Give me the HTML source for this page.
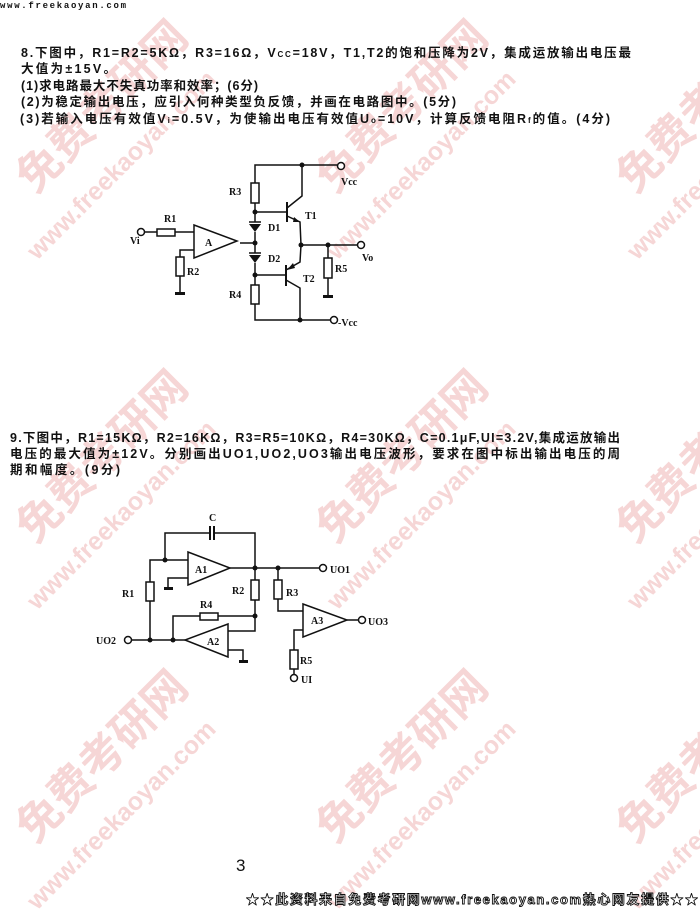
<!DOCTYPE html>
<html><head><meta charset="utf-8"><style>
html,body{margin:0;padding:0;background:#fff;}
svg{display:block;}
.t{font-family:"Liberation Sans","Noto Sans CJK SC",sans-serif;font-size:12.5px;fill:#111;font-weight:bold;}
.l{font-family:"Liberation Serif","Noto Serif CJK SC",serif;font-size:10px;font-weight:bold;fill:#111;}
.wm{font-family:"Liberation Sans","Noto Sans CJK SC",sans-serif;font-weight:bold;fill:#f6d6d6;}
</style></head><body>
<svg width="700" height="914" viewBox="0 0 700 914" xmlns="http://www.w3.org/2000/svg">
<rect width="700" height="914" fill="#fff"/>
<g class="wm">
<g transform="translate(35,195) rotate(-45)"><text font-size="44">免费考研网</text><text x="-45" y="48" font-size="25">www.freekaoyan.com</text></g>
<g transform="translate(335,195) rotate(-45)"><text font-size="44">免费考研网</text><text x="-45" y="48" font-size="25">www.freekaoyan.com</text></g>
<g transform="translate(635,195) rotate(-45)"><text font-size="44">免费考研网</text><text x="-45" y="48" font-size="25">www.freekaoyan.com</text></g>
<g transform="translate(35,545) rotate(-45)"><text font-size="44">免费考研网</text><text x="-45" y="48" font-size="25">www.freekaoyan.com</text></g>
<g transform="translate(335,545) rotate(-45)"><text font-size="44">免费考研网</text><text x="-45" y="48" font-size="25">www.freekaoyan.com</text></g>
<g transform="translate(635,545) rotate(-45)"><text font-size="44">免费考研网</text><text x="-45" y="48" font-size="25">www.freekaoyan.com</text></g>
<g transform="translate(35,845) rotate(-45)"><text font-size="44">免费考研网</text><text x="-45" y="48" font-size="25">www.freekaoyan.com</text></g>
<g transform="translate(335,845) rotate(-45)"><text font-size="44">免费考研网</text><text x="-45" y="48" font-size="25">www.freekaoyan.com</text></g>
<g transform="translate(635,845) rotate(-45)"><text font-size="44">免费考研网</text><text x="-45" y="48" font-size="25">www.freekaoyan.com</text></g>
</g>
<text x="0" y="8" font-family="Liberation Mono,monospace" font-size="9" font-weight="bold" fill="#111" textLength="126">www.freekaoyan.com</text>
<text class="t" x="21" y="57" textLength="610">8.下图中，R1=R2=5KΩ，R3=16Ω，V<tspan font-size="8">CC</tspan>=18V，T1,T2的饱和压降为2V，集成运放输出电压最</text>
<text class="t" x="21" y="73" textLength="95">大值为±15V。</text>
<text class="t" x="21" y="90" textLength="237">(1)求电路最大不失真功率和效率；(6分)</text>
<text class="t" x="21" y="106" textLength="435">(2)为稳定输出电压，应引入何种类型负反馈，并画在电路图中。(5分)</text>
<text class="t" x="20" y="123" textLength="590">(3)若输入电压有效值V<tspan font-size="8">i</tspan>=0.5V，为使输出电压有效值U<tspan font-size="8">o</tspan>=10V，计算反馈电阻R<tspan font-size="8">f</tspan>的值。(4分)</text>
<g stroke="#111" stroke-width="1.5" fill="none">
<polyline points="255,183 255,165 337,165"/>
<rect x="251" y="183" width="8" height="20" fill="#fff"/>
<polyline points="255,203 255,222"/>
<line x1="255" y1="212" x2="286" y2="212"/>
<line x1="287" y1="202" x2="287" y2="222" stroke-width="2"/>
<polyline points="287,208 302,196 302,165"/>
<polyline points="287,216 300,222 301,245"/>
<line x1="255" y1="232" x2="255" y2="253"/>
<line x1="240" y1="243" x2="255" y2="243"/>
<line x1="249" y1="222" x2="261" y2="222"/>
<line x1="249" y1="253" x2="261" y2="253"/>
<line x1="255" y1="263" x2="255" y2="285"/>
<line x1="255" y1="275" x2="285" y2="275"/>
<line x1="286" y1="265" x2="286" y2="286" stroke-width="2"/>
<polyline points="286,270 300,262 301,245"/>
<polyline points="286,280 300,288 300,320"/>
<rect x="251" y="285" width="8" height="19" fill="#fff"/>
<polyline points="255,304 255,320 330,320"/>
<line x1="301" y1="245" x2="357" y2="245"/>
<line x1="328" y1="245" x2="328" y2="258"/>
<rect x="324" y="258" width="8" height="20" fill="#fff"/>
<line x1="328" y1="278" x2="328" y2="296"/>
<polygon points="194,225 194,258 237,241" fill="#fff"/>
<line x1="145" y1="232" x2="157" y2="232"/>
<rect x="157" y="229" width="18" height="7" fill="#fff"/>
<line x1="175" y1="232" x2="194" y2="232"/>
<polyline points="194,250 180,250 180,257"/>
<rect x="176" y="257" width="8" height="19" fill="#fff"/>
<line x1="180" y1="276" x2="180" y2="293"/>
<circle cx="341" cy="166" r="3.5" fill="#fff"/>
<circle cx="361" cy="245" r="3.5" fill="#fff"/>
<circle cx="334" cy="320" r="3.5" fill="#fff"/>
<circle cx="141" cy="232" r="3.5" fill="#fff"/>
</g>
<g fill="#111">
<polygon points="249,224 261,224 255,232"/>
<polygon points="249,255 261,255 255,263"/>
<polygon points="300,222 294,217 293,222"/>
<polygon points="287,270 293,263 295,268"/>
<circle cx="302" cy="165" r="2.5"/><circle cx="255" cy="212" r="2.5"/><circle cx="255" cy="243" r="2.5"/>
<circle cx="255" cy="275" r="2.5"/><circle cx="301" cy="245" r="2.5"/><circle cx="328" cy="245" r="2.5"/>
<circle cx="300" cy="320" r="2.5"/>
<rect x="175" y="292" width="10" height="3"/><rect x="323" y="295" width="10" height="3"/>
</g>
<g class="l">
<text x="229" y="195">R3</text><text x="164" y="222">R1</text><text x="205" y="246">A</text>
<text x="130" y="244">Vi</text><text x="187" y="275">R2</text><text x="268" y="231">D1</text>
<text x="268" y="262">D2</text><text x="305" y="219">T1</text><text x="303" y="282">T2</text>
<text x="229" y="298">R4</text><text x="335" y="272">R5</text><text x="362" y="261">Vo</text>
<text x="341" y="185">Vcc</text><text x="338" y="326">-Vcc</text>
</g>
<text class="t" x="10" y="442" textLength="610">9.下图中，R1=15KΩ，R2=16KΩ，R3=R5=10KΩ，R4=30KΩ，C=0.1μF,UI=3.2V,集成运放输出</text>
<text class="t" x="10" y="458" textLength="610">电压的最大值为±12V。分别画出UO1,UO2,UO3输出电压波形，要求在图中标出输出电压的周</text>
<text class="t" x="10" y="474" textLength="110">期和幅度。(9分)</text>
<g stroke="#111" stroke-width="1.5" fill="none">
<polyline points="165,560 165,533 210,533"/>
<polyline points="214,533 255,533 255,580"/>
<line x1="210" y1="526" x2="210" y2="540" stroke-width="2"/>
<line x1="214" y1="526" x2="214" y2="540" stroke-width="2"/>
<polygon points="188,552 188,585 230,568" fill="#fff"/>
<polyline points="188,560 150,560 150,582"/>
<rect x="146" y="582" width="8" height="19" fill="#fff"/>
<line x1="150" y1="601" x2="150" y2="640"/>
<polyline points="188,578 168,578 168,588"/>
<line x1="230" y1="568" x2="319" y2="568"/>
<rect x="251" y="580" width="8" height="20" fill="#fff"/>
<polyline points="255,600 255,631 228,631"/>
<polyline points="255,616 218,616"/>
<rect x="200" y="613" width="18" height="7" fill="#fff"/>
<polyline points="200,616 173,616 173,640"/>
<polygon points="228,624 228,657 185,640" fill="#fff"/>
<polyline points="228,650 243,650 243,661"/>
<line x1="132" y1="640" x2="185" y2="640"/>
<line x1="278" y1="568" x2="278" y2="580"/>
<rect x="274" y="580" width="8" height="19" fill="#fff"/>
<polyline points="278,599 278,611 303,611"/>
<polygon points="303,604 303,637 347,620" fill="#fff"/>
<line x1="347" y1="620" x2="358" y2="620"/>
<polyline points="303,630 294,630 294,650"/>
<rect x="290" y="650" width="8" height="19" fill="#fff"/>
<line x1="294" y1="669" x2="294" y2="674"/>
<circle cx="323" cy="568" r="3.5" fill="#fff"/>
<circle cx="362" cy="620" r="3.5" fill="#fff"/>
<circle cx="128" cy="640" r="3.5" fill="#fff"/>
<circle cx="294" cy="678" r="3.5" fill="#fff"/>
</g>
<g fill="#111">
<circle cx="165" cy="560" r="2.5"/><circle cx="255" cy="568" r="2.5"/><circle cx="278" cy="568" r="2.5"/>
<circle cx="255" cy="616" r="2.5"/><circle cx="150" cy="640" r="2.5"/><circle cx="173" cy="640" r="2.5"/>
<rect x="164" y="587" width="9" height="3"/><rect x="239" y="660" width="9" height="3"/>
</g>
<g class="l">
<text x="209" y="521">C</text><text x="195" y="573">A1</text><text x="122" y="597">R1</text>
<text x="232" y="594">R2</text><text x="200" y="608">R4</text><text x="207" y="645">A2</text>
<text x="286" y="596">R3</text><text x="311" y="624">A3</text><text x="300" y="664">R5</text>
<text x="96" y="644">UO2</text><text x="330" y="573">UO1</text><text x="368" y="625">UO3</text>
<text x="301" y="683">UI</text>
</g>
<text x="236" y="871" font-family="Liberation Sans,sans-serif" font-size="17" fill="#111">3</text>
<text x="246" y="904" font-family="Liberation Sans,'Noto Sans CJK SC',sans-serif" font-size="13" font-weight="bold" fill="#fff" stroke="#111" stroke-width="0.9" textLength="452">★★此资料来自免费考研网www.freekaoyan.com热心网友提供★★</text>
</svg>
</body></html>
